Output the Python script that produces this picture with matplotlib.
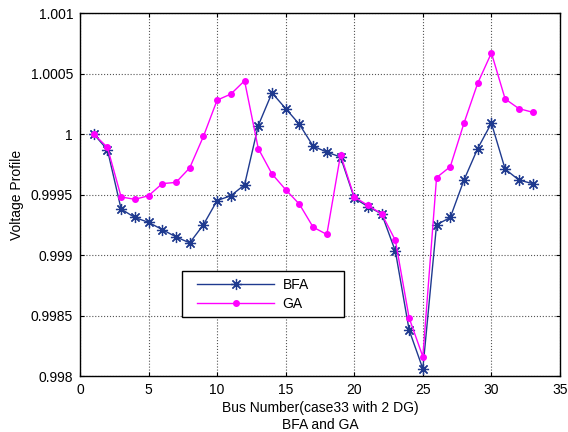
import numpy as np
import matplotlib
matplotlib.use("Agg")
import matplotlib.pyplot as plt
from matplotlib.ticker import FuncFormatter
from matplotlib.legend_handler import HandlerLine2D

# ---------------- DATA ----------------
bus = list(range(1, 34))

bfa = [1.0000, 0.99987, 0.99938, 0.99931, 0.99927, 0.99921, 0.99915, 0.99910,
       0.99925, 0.99945, 0.99949, 0.99958, 1.00007, 1.00034, 1.00021, 1.00008,
       0.99990, 0.99985, 0.99981, 0.99947, 0.99940, 0.99934, 0.99903, 0.99838,
       0.99806, 0.99925, 0.99931, 0.99962, 0.99988, 1.00009, 0.99971, 0.99962,
       0.99959]

ga = [1.0000, 0.99989, 0.99948, 0.99946, 0.99949, 0.99959, 0.99960, 0.99972,
      0.99998, 1.00028, 1.00033, 1.00044, 0.99988, 0.99967, 0.99954, 0.99942,
      0.99923, 0.99917, 0.99983, 0.99948, 0.99941, 0.99934, 0.99912, 0.99848,
      0.99816, 0.99964, 0.99973, 1.00009, 1.00042, 1.00067, 1.00029, 1.00021,
      1.00018]

plt.rcParams['font.family'] = ['Liberation Sans', 'DejaVu Sans']

fig = plt.figure(figsize=(5.68, 4.32), dpi=100)
ax = fig.add_axes([0.1408, 0.1296, 0.8451, 0.8403])

ax.plot(bus, bfa, color='#1f3a8f', lw=1.0, marker=(8, 2, 0), markersize=8,
        markeredgewidth=0.9, label='BFA')
ax.plot(bus, ga, color='#ff00ff', lw=1.0, marker='o', markersize=4,
        label='GA')

ax.set_xlim(0, 35)
ax.set_ylim(0.998, 1.001)
ax.set_xticks(range(0, 36, 5))
ax.set_yticks(np.arange(0.998, 1.00101, 0.0005))
ax.yaxis.set_major_formatter(FuncFormatter(lambda v, p: ('%.4f' % v).rstrip('0').rstrip('.')))

ax.grid(True, color='#555555', linestyle=':', linewidth=0.8)
ax.tick_params(direction='in', top=True, right=True, labelsize=10, length=3, pad=5)
for s in ax.spines.values():
    s.set_linewidth(1.0)

ax.set_xlabel('Bus Number(case33 with 2 DG)\nBFA and GA', fontsize=10,
              labelpad=3, linespacing=1.3)
ax.set_ylabel('Voltage Profile', fontsize=10, labelpad=5)

# legend box, handle line shifted a bit right like the original
leg = ax.legend(loc='upper left', bbox_to_anchor=(0.212, 0.288, 0.337, 0),
                mode='expand', fontsize=10, handlelength=6.22, handletextpad=0.6,
                borderpad=0.45, labelspacing=0.35, fancybox=False,
                edgecolor='black', framealpha=1, borderaxespad=0,
                handler_map={plt.Line2D: HandlerLine2D(xpad=0.68)})
leg.get_frame().set_linewidth(1.0)

fig.savefig('out.png', dpi=100)
